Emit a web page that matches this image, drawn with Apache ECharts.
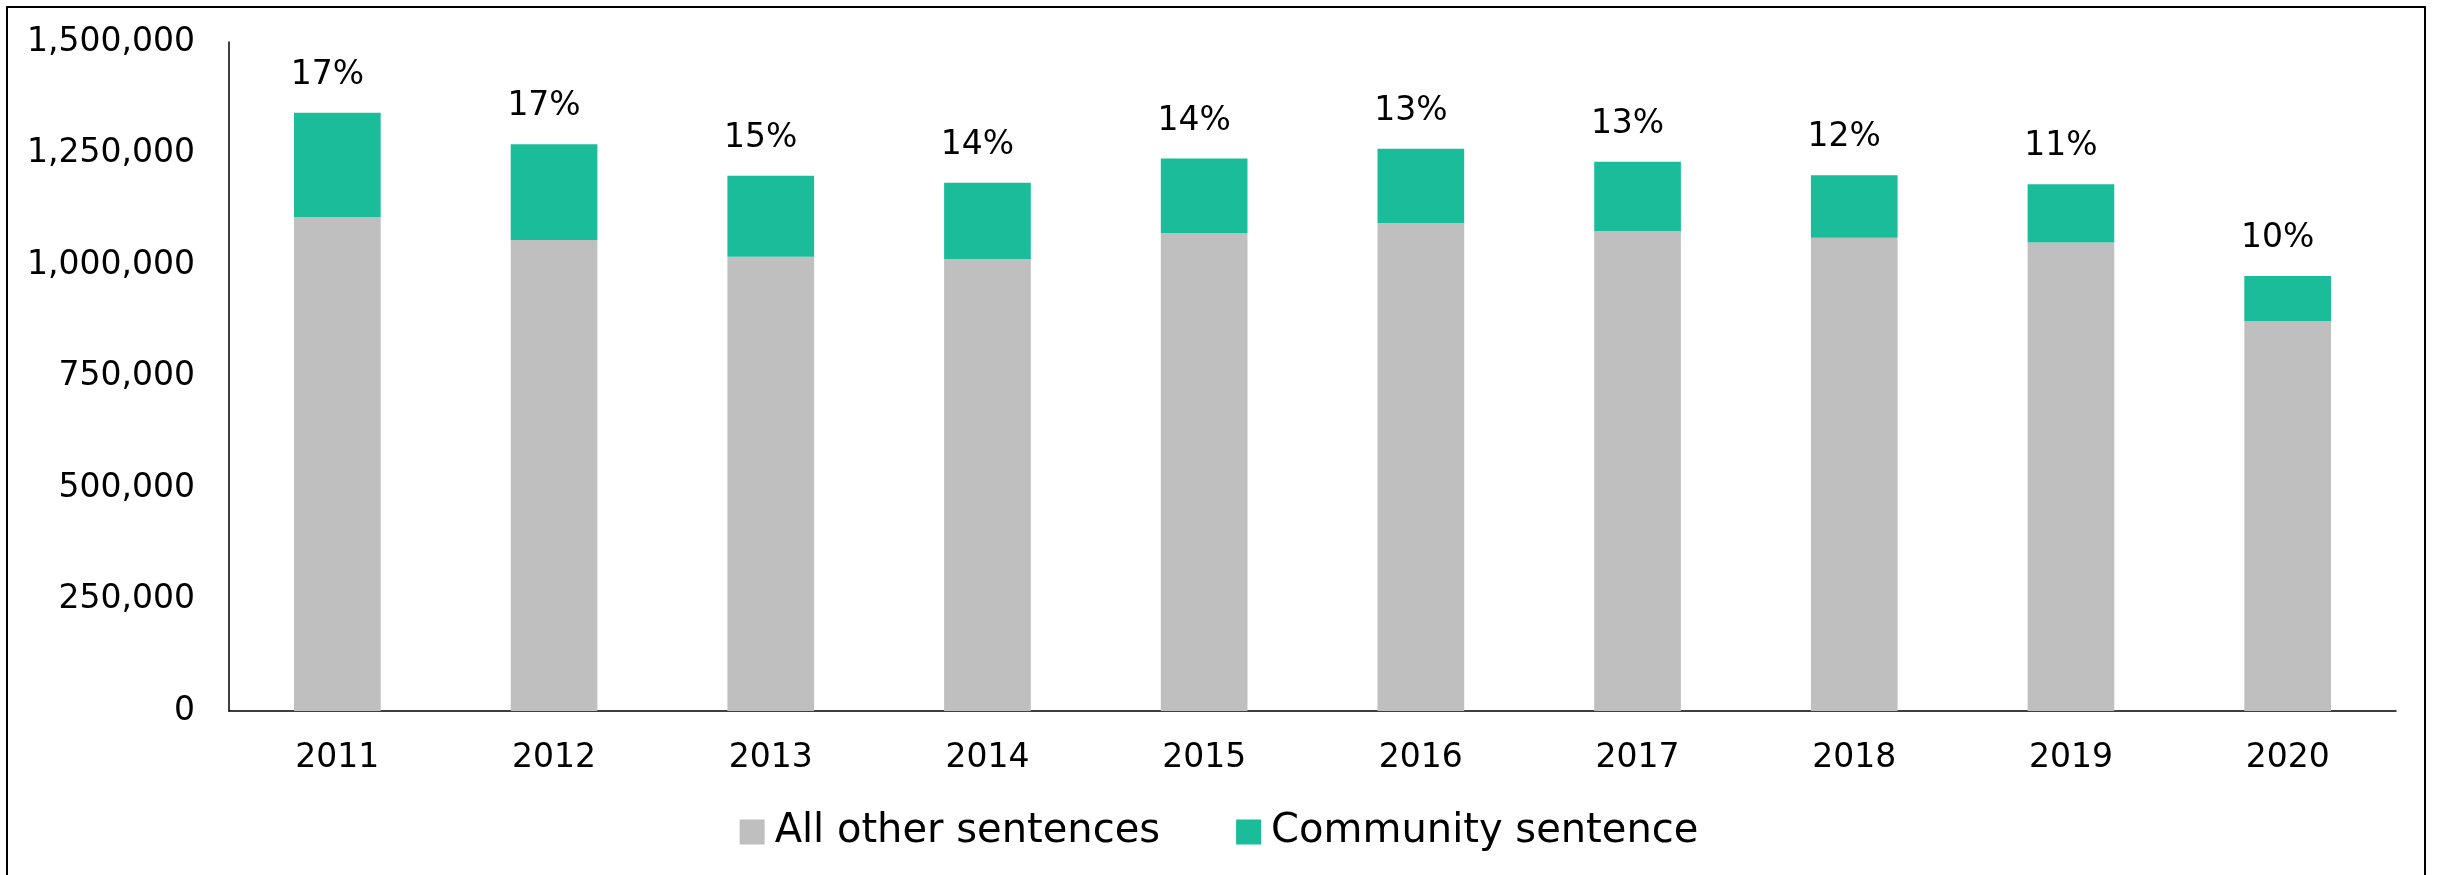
<!DOCTYPE html>
<html>
<head>
<meta charset="utf-8">
<script src="https://cdn.jsdelivr.net/npm/echarts@6/dist/echarts.min.js"></script>
<style>
  html, body { margin: 0; padding: 0; background: #fff; }
  #bar-chart { width: 2438px; height: 875px; }
</style>
</head>
<body>
<div id="bar-chart"></div>
<script>
// values
const years = ["2011", "2012", "2013", "2014", "2015", "2016", "2017", "2018", "2019", "2020"];
const otherSentences = [1107700, 1056100, 1018600, 1013500, 1071100, 1094200, 1076300, 1061300, 1050500, 874500];
const communitySentences = [233800, 214600, 181600, 171100, 167700, 166600, 155300, 139900, 130500, 100900];
const communityShare = ["17%", "17%", "15%", "14%", "14%", "13%", "13%", "12%", "11%", "10%"];
const yTicks = [0, 250000, 500000, 750000, 1000000, 1250000, 1500000];

const fmt = v => String(v).replace(/\B(?=(\d{3})+(?!\d))/g, ",");

let myChart = echarts.init(document.getElementById("bar-chart"));
let option = {
  animation: false,
  textStyle: { fontFamily: "DejaVu Sans" },
  graphic: [
    {
      type: "rect",
      silent: true,
      shape: { x: 7, y: 7, width: 2418, height: 900 },
      style: { fill: "none", stroke: "#000", lineWidth: 2 }
    }
  ],
  grid: { left: 229, right: 42, top: 42, bottom: 164 },
  legend: {
    left: "center",
    top: 812,
    padding: 0,
    icon: "rect",
    itemWidth: 25,
    itemHeight: 25,
    itemGap: 76,
    selectedMode: false,
    textStyle: { color: "#000", fontSize: 40, lineHeight: 40, padding: [0, 0, 0, 5] }
  },
  xAxis: {
    type: "category",
    data: years,
    axisLine: { lineStyle: { color: "#000", width: 1.5 } },
    axisTick: { show: false },
    axisLabel: { color: "#000", fontSize: 33, lineHeight: 33, margin: 31 }
  },
  yAxis: {
    type: "value",
    min: yTicks[0],
    max: yTicks[yTicks.length - 1],
    interval: yTicks[1] - yTicks[0],
    axisLine: { show: true, lineStyle: { color: "#000", width: 1.5 } },
    axisTick: { show: false },
    splitLine: { show: false },
    axisLabel: { color: "#000", fontSize: 33, margin: 34, formatter: fmt }
  },
  series: [
    {
      name: "All other sentences",
      type: "bar",
      stack: "total",
      barWidth: "40%",
      itemStyle: { color: "#bfbfbf" },
      data: otherSentences
    },
    {
      name: "Community sentence",
      type: "bar",
      stack: "total",
      barWidth: "40%",
      itemStyle: { color: "#1bbc9a" },
      label: {
        show: true,
        position: "top",
        distance: 21,
        offset: [-10, 0],
        color: "#000",
        fontSize: 33,
        lineHeight: 33,
        formatter: p => communityShare[p.dataIndex]
      },
      data: communitySentences
    }
  ]
};
myChart.setOption(option);
window.onresize = function() {
  myChart.resize();
};
</script>
</body>
</html>
